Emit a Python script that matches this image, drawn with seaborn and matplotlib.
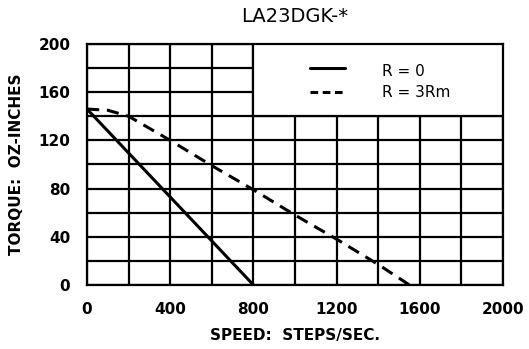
import pandas as pd
import matplotlib
matplotlib.use("Agg")
import matplotlib.pyplot as plt
import seaborn as sns
from matplotlib.patches import Rectangle

# curve readings
speed_r0 = [0, 400, 800]
torque_r0 = [146, 73, 0]
speed_r3 = [0, 100, 200, 400, 600, 800, 1000, 1200, 1400, 1550]
torque_r3 = [146, 145, 140, 120, 99, 79, 58, 38, 17, 0]
series_labels = ["R = 0", "R = 3Rm"]
x_ticks = [0, 400, 800, 1200, 1600, 2000]
y_ticks = [0, 40, 80, 120, 160, 200]

df = pd.concat([
    pd.DataFrame({"speed": speed_r0, "torque": torque_r0, "curve": series_labels[0]}),
    pd.DataFrame({"speed": speed_r3, "torque": torque_r3, "curve": series_labels[1]}),
])

sns.set_style("white")
plt.rcParams["font.family"] = ["DejaVu Sans"]
plt.rcParams["text.color"] = "black"
plt.rcParams["axes.labelcolor"] = "black"
plt.rcParams["xtick.color"] = "black"
plt.rcParams["ytick.color"] = "black"

fig = plt.figure(figsize=(5.29, 3.49), dpi=100)
ax = fig.add_axes([0.1645, 0.1834, 0.7865, 0.6906])

sns.lineplot(data=df, x="speed", y="torque", hue="curve", style="curve",
             palette=["black", "black"], dashes=[(None, None), (4, 2.5)],
             linewidth=2.2, ax=ax, legend=False, zorder=5, sort=False)

ax.set_xlim(0, 2000)
ax.set_ylim(0, 200)
ax.set_xticks(x_ticks)
ax.set_yticks(y_ticks)
ax.set_xticks(range(200, 2000, 400), minor=True)
ax.set_yticks(range(20, 200, 40), minor=True)
ax.grid(True, which="both", color="black", linewidth=1.6)
ax.tick_params(which="both", length=0, labelsize=11, pad=12)
for lab in ax.get_xticklabels() + ax.get_yticklabels():
    lab.set_fontweight("bold")
for s in ax.spines.values():
    s.set_color("black")
    s.set_linewidth(1.6)

# legend box covering the upper-right grid cells
ax.add_patch(Rectangle((0.4, 0.7), 0.6, 0.3, transform=ax.transAxes,
                       facecolor="white", edgecolor="black", linewidth=1.6,
                       zorder=3))
ax.plot([0.536, 0.62], [0.90, 0.90], transform=ax.transAxes, color="black",
        linewidth=2.2, zorder=4)
ax.plot([0.536, 0.62], [0.80, 0.80], transform=ax.transAxes, color="black",
        linewidth=2.2, dashes=(2.5, 1.5), zorder=4)
ax.text(0.708, 0.885, series_labels[0], transform=ax.transAxes, fontsize=11,
        va="center", ha="left", zorder=4)
ax.text(0.708, 0.80, series_labels[1], transform=ax.transAxes, fontsize=11,
        va="center", ha="left", zorder=4)

ax.set_title("LA23DGK-*", fontsize=14, pad=16)
ax.set_xlabel("SPEED:  STEPS/SEC.", fontsize=11, fontweight="bold", labelpad=8)
ax.set_ylabel("TORQUE:  OZ-INCHES", fontsize=11, fontweight="bold", labelpad=10)

fig.savefig("out.png", dpi=100)
